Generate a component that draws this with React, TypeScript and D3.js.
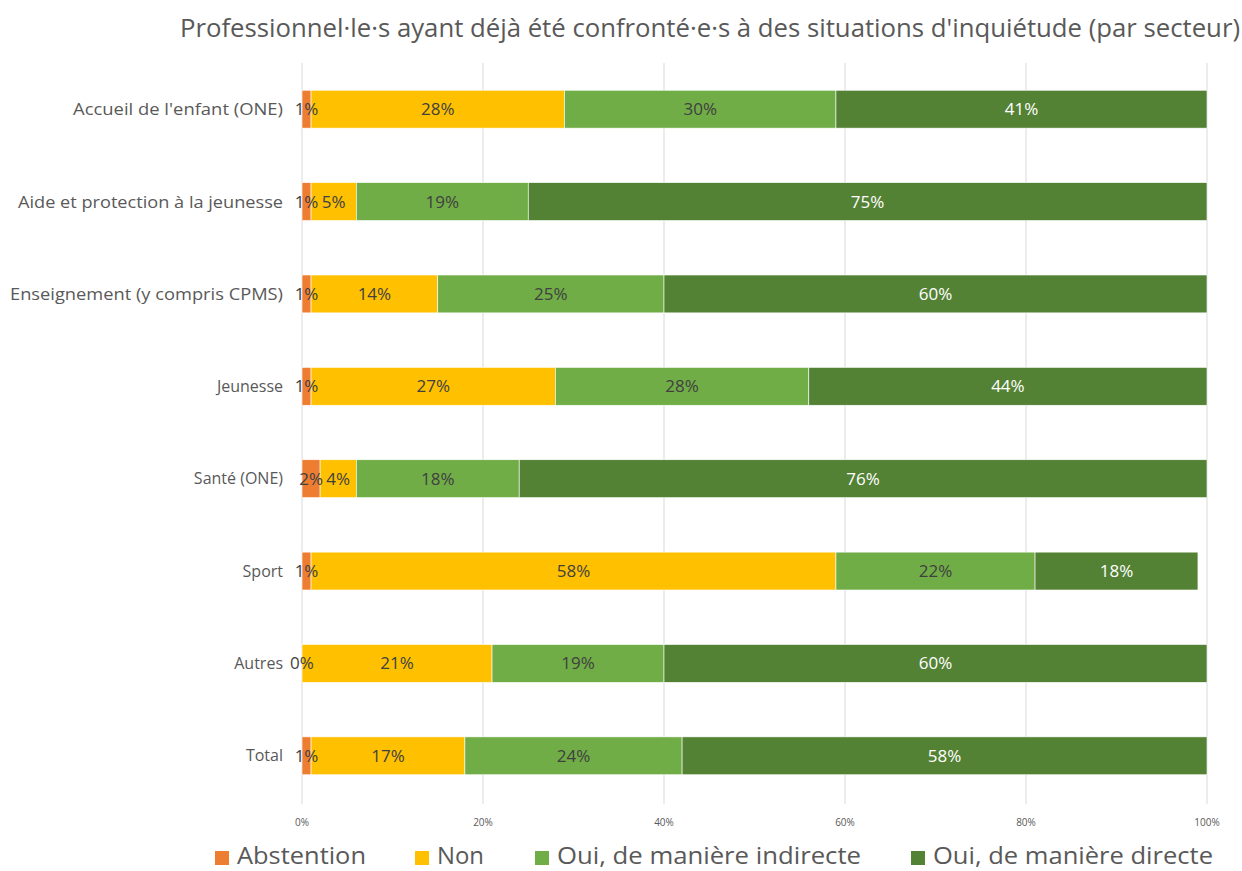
import React from "react";
import * as d3 from "d3";

const categories = [
  "Accueil de l'enfant (ONE)",
  "Aide et protection à la jeunesse",
  "Enseignement (y compris CPMS)",
  "Jeunesse",
  "Santé (ONE)",
  "Sport",
  "Autres",
  "Total",
];
const seriesNames = ["Abstention", "Non", "Oui, de manière indirecte", "Oui, de manière directe"];
const abstention = [1, 1, 1, 1, 2, 1, 0, 1];
const non = [28, 5, 14, 27, 4, 58, 21, 17];
const indirecte = [30, 19, 25, 28, 18, 22, 19, 24];
const directe = [41, 75, 60, 44, 76, 18, 60, 58];
const xTicks = [0, 20, 40, 60, 80, 100];
const title = "Professionnel·le·s ayant déjà été confronté·e·s à des situations d'inquiétude (par secteur)";

const colors = ["#ED7D31", "#FFC000", "#70AD47", "#548235"];
const labelColors = ["#404040", "#404040", "#404040", "#ffffff"];
const legendTextLen = [129, 47, 304, 280];
const legendX = [215, 415, 535, 911];
const catTextLen: (number | undefined)[] = [210, 265, 273, undefined, undefined, undefined, undefined, undefined];

export default function App() {
  const W = 1242, H = 871;
  const x = d3.scaleLinear().domain([0, 100]).range([302, 1207]);
  const y = d3.scaleBand().domain(categories).range([63, 802]).paddingInner(0.59).paddingOuter(0.295);
  const table = categories.map((c, i) => ({
    cat: c,
    Abstention: abstention[i],
    Non: non[i],
    "Oui, de manière indirecte": indirecte[i],
    "Oui, de manière directe": directe[i],
  }));
  const stacked = d3.stack<any>().keys(seriesNames)(table);
  const font = "'Open Sans', sans-serif";
  return (
    <svg width={W} height={H} style={{ position: "absolute", left: 0, top: 0, background: "#fff" }} fontFamily={font}>
      <text x={180} y={37} fontSize={25} fill="#595959" textLength={1060} lengthAdjust="spacingAndGlyphs">{title}</text>
      {xTicks.map((t) => (
        <g key={t}>
          <line x1={x(t)} x2={x(t)} y1={63} y2={804} stroke="#d9d9d9" strokeWidth={1} />
          <text x={x(t)} y={826} fontSize={10} fill="#595959" textAnchor="middle">{t}%</text>
        </g>
      ))}
      {stacked.map((s, si) => (
        <g key={s.key}>
          {s.map((d, i) => (
            <rect key={i} x={x(d[0])} y={y(categories[i])!} width={Math.max(0, x(d[1]) - x(d[0]))} height={y.bandwidth()}
              fill={colors[si]} stroke="#ffffff" strokeWidth={0.6} />
          ))}
        </g>
      ))}
      {stacked.map((s, si) => (
        <g key={s.key + "l"}>
          {s.map((d, i) => (
            <text key={i} x={(x(d[0]) + x(d[1])) / 2} y={y(categories[i])! + y.bandwidth() / 2} dy="0.35em"
              fontSize={17} fill={labelColors[si]} textAnchor="middle">{d[1] - d[0]}%</text>
          ))}
        </g>
      ))}
      {categories.map((c, i) => (
        <text key={c} x={283} y={y(c)! + y.bandwidth() / 2} dy="0.35em" fontSize={catTextLen[i] ? 17 : 16} fill="#595959" textAnchor="end"
          textLength={catTextLen[i]} lengthAdjust={catTextLen[i] ? "spacingAndGlyphs" : undefined}>{c}</text>
      ))}
      {seriesNames.map((n, i) => (
        <g key={n}>
          <rect x={legendX[i]} y={851} width={14} height={14} fill={colors[i]} />
          <text x={legendX[i] + 22} y={864} fontSize={23} fill="#595959" textLength={legendTextLen[i]} lengthAdjust="spacingAndGlyphs">{n}</text>
        </g>
      ))}
    </svg>
  );
}
